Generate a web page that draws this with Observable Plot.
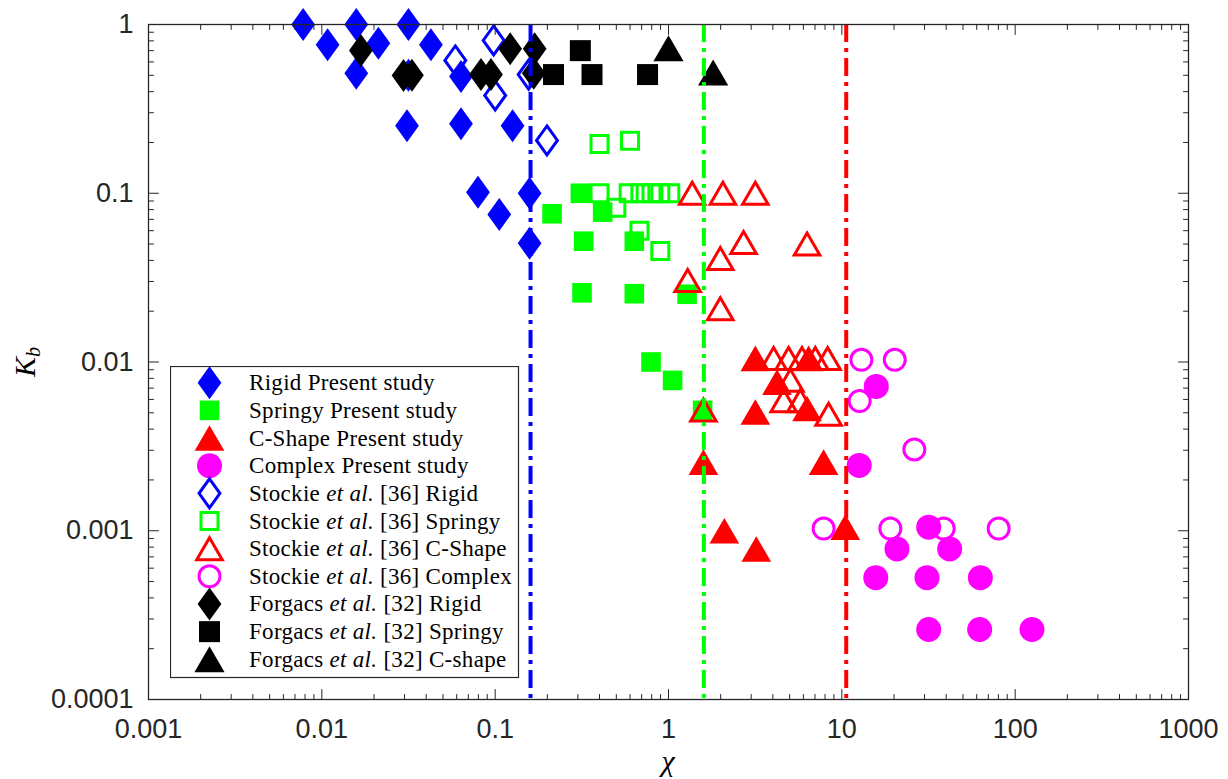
<!DOCTYPE html>
<html>
<head>
<meta charset="utf-8">
<script src="https://cdn.jsdelivr.net/npm/d3@7"></script>
<script src="https://cdn.jsdelivr.net/npm/@observablehq/plot@0.6"></script>
<style>
  body { margin: 0; background: #fff; }
  #wrap { position: relative; width: 1228px; height: 779px; }
  #legend { position: absolute; left: 170px; top: 366px; }
</style>
</head>
<body>
<div id="wrap"></div>
<script>
// ---------------- data ----------------
const rigidPresentX   = [0.0078, 0.0108, 0.0158, 0.0158, 0.0212, 0.0316, 0.0316, 0.0426, 0.031, 0.0635, 0.0635, 0.126, 0.0796, 0.1056, 0.158, 0.158];
const rigidPresentY   = [1, 0.758, 1, 0.515, 0.775, 1, 0.5, 0.758, 0.251, 0.492, 0.258, 0.251, 0.1015, 0.0749, 0.1, 0.0506];
const springyPresentX = [0.31, 0.213, 0.417, 0.324, 0.635, 0.317, 0.635, 1.28, 0.793, 1.056, 1.574];
const springyPresentY = [0.1, 0.0756, 0.0773, 0.052, 0.052, 0.0257, 0.0254, 0.0252, 0.01, 0.00778, 0.00517];
const cshapePresentX  = [3.17, 6.43, 4.23, 6.3, 3.17, 1.59, 7.85, 10.47, 3.21, 2.1];
const cshapePresentY  = [0.0105, 0.0105, 0.0076, 0.0053, 0.00505, 0.00255, 0.00255, 0.00105, 0.00078, 0.001];
const complexPresentX = [15.8, 12.6, 31.7, 20.8, 41.9, 15.7, 31.0, 63, 31.7, 62.4, 125];
const complexPresentY = [0.00717, 0.00244, 0.00105, 0.00078, 0.00078, 0.000527, 0.000527, 0.000527, 0.00026, 0.00026, 0.00026];
const stockieRigidX   = [0.098, 0.0589, 0.1, 0.199, 0.156];
const stockieRigidY   = [0.804, 0.612, 0.38, 0.2055, 0.505];
const stockieSpringyX = [0.4, 0.6, 0.4, 0.589, 0.688, 0.798, 0.897, 1.024, 0.5, 0.68, 0.897];
const stockieSpringyY = [0.196, 0.205, 0.1, 0.1, 0.1, 0.1, 0.1, 0.1, 0.082, 0.06, 0.0454];
const stockieCshapeX  = [1.37, 2.06, 3.17, 2.71, 6.3, 1.99, 1.29, 1.99, 1.59, 4.04, 4.93, 5.89, 7.03, 8.28, 5.05, 4.62, 5.76, 8.39];
const stockieCshapeY  = [0.1, 0.1, 0.1, 0.051, 0.05, 0.041, 0.0304, 0.0207, 0.0052, 0.0105, 0.0105, 0.0105, 0.0105, 0.0105, 0.0078, 0.0059, 0.0059, 0.0049];
const stockieComplexX = [12.96, 20.2, 12.67, 26.2, 7.85, 19.05, 38.7, 80.3];
const stockieComplexY = [0.0103, 0.0103, 0.00587, 0.00303, 0.00103, 0.00103, 0.00103, 0.00103];
const forgacsRigidX   = [0.0168, 0.0296, 0.0331, 0.0828, 0.0946, 0.122, 0.169, 0.167];
const forgacsRigidY   = [0.701, 0.499, 0.5, 0.505, 0.505, 0.718, 0.718, 0.515];
const forgacsSpringyX = [0.31, 0.217, 0.362, 0.757];
const forgacsSpringyY = [0.7, 0.505, 0.505, 0.505];
const forgacsCshapeX  = [1.0, 1.81];
const forgacsCshapeY  = [0.723, 0.52];

const boundaryX      = [0.16, 1.6, 10.6];
const boundaryColors = ["#0000ff", "#00ff00", "#ff0000"];

const xTicks      = [0.001, 0.01, 0.1, 1, 10, 100, 1000];
const xTickLabels = ["0.001", "0.01", "0.1", "1", "10", "100", "1000"];
const yTicks      = [0.0001, 0.001, 0.01, 0.1, 1];
const yTickLabels = ["0.0001", "0.001", "0.01", "0.1", "1"];

const seriesLabels = [
  "Rigid Present study", "Springy Present study", "C-Shape Present study", "Complex Present study",
  "Stockie |et al.| [36] Rigid", "Stockie |et al.| [36] Springy", "Stockie |et al.| [36] C-Shape", "Stockie |et al.| [36] Complex",
  "Forgacs |et al.| [32] Rigid", "Forgacs |et al.| [32] Springy", "Forgacs |et al.| [32] C-shape"
];

// ---------------- symbols ----------------
const diamondSym  = {draw(c, s) { const r = Math.sqrt(s / Math.PI); c.moveTo(0, -r); c.lineTo(0.72 * r, 0); c.lineTo(0, r); c.lineTo(-0.72 * r, 0); c.closePath(); }};
const squareSym   = {draw(c, s) { const r = Math.sqrt(s / Math.PI); c.rect(-r, -r, 2 * r, 2 * r); }};
const triangleSym = {draw(c, s) { const r = Math.sqrt(s / Math.PI); c.moveTo(0, -r); c.lineTo(1.16 * r, r); c.lineTo(-1.16 * r, r); c.closePath(); }};
const circleSym   = d3.symbolCircle;

const BLUE = "#0000ff", GREEN = "#00ff00", RED = "#ff0000", MAG = "#ff00ff", BLACK = "#000000";

const series = [
  {x: rigidPresentX,   y: rigidPresentY,   sym: diamondSym,  color: BLUE,  filled: true,  r: 16.5},
  {x: springyPresentX, y: springyPresentY, sym: squareSym,   color: GREEN, filled: true,  r: 9.8},
  {x: cshapePresentX,  y: cshapePresentY,  sym: triangleSym, color: RED,   filled: true,  r: 12.8},
  {x: complexPresentX, y: complexPresentY, sym: circleSym,   color: MAG,   filled: true,  r: 12.5},
  {x: stockieRigidX,   y: stockieRigidY,   sym: diamondSym,  color: BLUE,  filled: false, r: 14.5},
  {x: stockieSpringyX, y: stockieSpringyY, sym: squareSym,   color: GREEN, filled: false, r: 8.5},
  {x: stockieCshapeX,  y: stockieCshapeY,  sym: triangleSym, color: RED,   filled: false, r: 11},
  {x: stockieComplexX, y: stockieComplexY, sym: circleSym,   color: MAG,   filled: false, r: 10.5},
  {x: forgacsRigidX,   y: forgacsRigidY,   sym: diamondSym,  color: BLACK, filled: true,  r: 16.5},
  {x: forgacsSpringyX, y: forgacsSpringyY, sym: squareSym,   color: BLACK, filled: true,  r: 10.5},
  {x: forgacsCshapeX,  y: forgacsCshapeY,  sym: triangleSym, color: BLACK, filled: true,  r: 13}
];

// minor ticks (2..9 within each decade)
const xMinor = [], yMinor = [];
for (let i = 0; i < xTicks.length - 1; i++) for (let k = 2; k <= 9; k++) xMinor.push(xTicks[i] * k);
for (let i = 0; i < yTicks.length - 1; i++) for (let k = 2; k <= 9; k++) yMinor.push(yTicks[i] * k);

const AX = "#262626";
const tickShape = {draw(c, l) { c.moveTo(0, 0); c.lineTo(0, -l); }};
const tickMarks = [];
for (const [ticks, len] of [[xTicks, 10], [xMinor, 5]]) {
  tickMarks.push(Plot.vectorX(ticks, {frameAnchor: "bottom", length: len, rotate: 0, anchor: "start", shape: tickShape, stroke: AX, strokeWidth: 1}));
  tickMarks.push(Plot.vectorX(ticks, {frameAnchor: "top", length: len, rotate: 180, anchor: "start", shape: tickShape, stroke: AX, strokeWidth: 1}));
}
for (const [ticks, len] of [[yTicks, 10], [yMinor, 5]]) {
  tickMarks.push(Plot.vectorY(ticks, {frameAnchor: "left", length: len, rotate: 90, anchor: "start", shape: tickShape, stroke: AX, strokeWidth: 1}));
  tickMarks.push(Plot.vectorY(ticks, {frameAnchor: "right", length: len, rotate: -90, anchor: "start", shape: tickShape, stroke: AX, strokeWidth: 1}));
}

const dotMarks = series.map(s => Plot.dot(d3.zip(s.x, s.y), {
  x: d => d[0], y: d => d[1], symbol: s.sym, r: s.r,
  fill: s.filled ? s.color : "none",
  stroke: s.filled ? "none" : s.color,
  strokeWidth: s.filled ? 0 : 3
}));

const ruleMarks = boundaryX.map((v, i) => Plot.ruleX([v], {stroke: boundaryColors[i], strokeWidth: 4, strokeDasharray: "18,6,4,6"}));

const xLab = new Map(xTicks.map((t, i) => [t, xTickLabels[i]]));
const yLab = new Map(yTicks.map((t, i) => [t, yTickLabels[i]]));

const chart = Plot.plot({
  width: 1228, height: 779,
  marginLeft: 148, marginRight: 40, marginTop: 24, marginBottom: 80,
  x: {type: "log", domain: [0.001, 1000]},
  y: {type: "log", domain: [0.0001, 1]},
  style: {fontFamily: "'Liberation Sans', Arial, sans-serif", fontSize: "27px", color: AX, background: "white"},
  marks: [
    ...dotMarks,
    ...ruleMarks,
    Plot.frame({stroke: AX, strokeWidth: 1.3}),
    ...tickMarks,
    Plot.axisX(xTicks, {tickSize: 0, tickPadding: 19, tickFormat: d => xLab.get(d), label: null, fontSize: 27}),
    Plot.axisY(yTicks, {tickSize: 0, tickPadding: 15, tickFormat: d => yLab.get(d), label: null, fontSize: 27})
  ]
});

const wrap = document.getElementById("wrap");
wrap.appendChild(chart);

// axis titles
const svg = d3.select(chart);
svg.append("text")
  .attr("x", 668).attr("y", 771)
  .attr("text-anchor", "middle")
  .attr("font-family", "'Liberation Serif', serif")
  .attr("font-style", "italic").attr("font-size", 30).attr("fill", "#000")
  .text("χ");
const ky = svg.append("text")
  .attr("transform", "translate(35,362) rotate(-90)")
  .attr("text-anchor", "middle")
  .attr("font-family", "'Liberation Serif', serif")
  .attr("font-style", "italic").attr("font-size", 30).attr("fill", "#000");
ky.append("tspan").text("K");
ky.append("tspan").attr("font-size", 20).attr("dy", 5).text("b");

// legend
const LW = 350, LH = 313;
const leg = d3.select(wrap).append("svg")
  .attr("id", "legend").attr("width", LW).attr("height", LH);
leg.append("rect").attr("x", 0.5).attr("y", 0.5).attr("width", LW - 2).attr("height", LH - 2)
  .attr("fill", "#fff").attr("stroke", AX).attr("stroke-width", 1.2);
series.forEach((s, i) => {
  const cy = 16.7 + i * 27.66;
  leg.append("path")
    .attr("transform", `translate(39.5,${cy})`)
    .attr("d", d3.symbol(s.sym, Math.PI * s.r * s.r)())
    .attr("fill", s.filled ? s.color : "none")
    .attr("stroke", s.filled ? "none" : s.color)
    .attr("stroke-width", s.filled ? 0 : 3);
  const t = leg.append("text")
    .attr("x", 79).attr("y", cy + 7.5)
    .attr("font-family", "'Liberation Serif', serif")
    .attr("font-size", 23).attr("letter-spacing", 0.3).attr("fill", "#000");
  seriesLabels[i].split("|").forEach((part, j) => {
    t.append("tspan").attr("font-style", j % 2 ? "italic" : "normal").text(part);
  });
});
</script>
</body>
</html>
